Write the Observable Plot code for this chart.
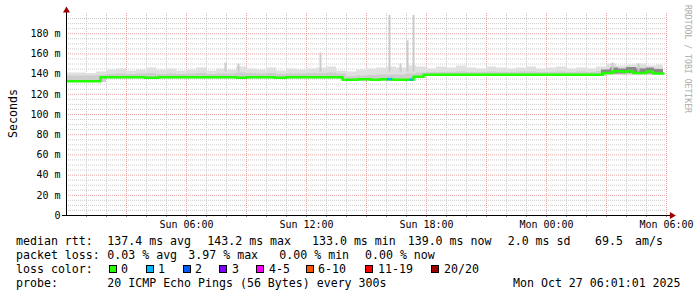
<!DOCTYPE html>
<html><head><meta charset="utf-8">
<script src="https://cdn.jsdelivr.net/npm/d3@7"></script>
<script src="https://cdn.jsdelivr.net/npm/@observablehq/plot@0.6"></script>
<style>
body{margin:0;background:#fff;}
#wrap{position:relative;width:697px;height:297px;overflow:hidden;background:#fff;font-family:"DejaVu Sans Mono",monospace;}
#chart{position:absolute;left:0;top:0;}
#over{position:absolute;left:0;top:0;pointer-events:none;}
.t{position:absolute;font-size:11.6px;line-height:14px;white-space:pre;color:#000;}
.box{position:absolute;width:6px;height:6px;border:1px solid #000;}
</style></head><body>
<div id="wrap">
<div id="chart"></div>
<svg id="over" width="697" height="297" font-family="DejaVu Sans Mono, monospace">
  <text transform="translate(16.5,113.5) rotate(-90)" text-anchor="middle" font-size="11.6" fill="#000">Seconds</text>
  <text transform="translate(684.5,5) rotate(90)" font-size="9" fill="#aaaaaa" textLength="108" lengthAdjust="spacingAndGlyphs">RRDTOOL / TOBI OETIKER</text>
</svg>
<div id="legend"></div>
</div>
<script>
// ---- time frame (Sun 00:00 .. Mon 06:00) ----
const START = Date.UTC(2025, 9, 26, 0, 0, 0);
const HOUR = 3600e3;
const at = h => new Date(START + h * HOUR);

// ---- axes ----
const yTicks = [0, 20, 40, 60, 80, 100, 120, 140, 160, 180];
const xTickHours = [6, 12, 18, 24, 30];
const xTickLabels = ["Sun 06:00", "Sun 12:00", "Sun 18:00", "Mon 00:00", "Mon 06:00"];

// ---- median rtt (ms), step changes at hours since Sun 00:00 ----
const medianHours = [0.05, 1.7, 3.9, 4.6, 8.5, 9.0, 10.4, 11.0, 13.8, 14.6, 15.2, 15.7, 16.3, 17.35, 17.85, 26.83, 27.33, 27.83, 28.0, 28.33, 29.0, 29.33, 29.85];
const medianMs =    [133, 137, 136.3, 137, 136.3, 137, 136.3, 137, 134.5, 135, 134.5, 135, 134.5, 137.3, 139.3, 141, 142.7, 142, 142.7, 141, 142.5, 140.5, 140.5];

// ---- smoke (30-minute bins from Sun 00:00) ----
const smokeLo = [131.8,131.8,131.8,131.8,
  135.5,135.5,135.5,135.5,135.5,135.5,135.5,135.5,135.5,135.5,135.5,135.5,
  135.5,135.5,135.5,135.5,135.5,135.5,135.5,135.5,135.5,135.5,135.5,135.5,
  133,133,133,133,133,133,133, 136,
  138,138,138,138,138,138,138,138,138,138,138,138,138,138,138,138,138,138,
  139,139,139,139,139,139];
const smokeMid = [138,138,138,138.5, 139.5,140,139.5,140, 140.5,139.5,140,139.5,
  140,140.5,139.5,140, 140,141,140.5,140, 140.5,139.5,140,140, 140.5,140.5,141,140,
  137.5,138,138.5,139, 139,139,140,141, 141.5,141.5,141.5,142, 141.5,141.5,142,141.5,
  141.5,142,142,141.5, 141.5,142,141.5,142, 141.5,142.5,145,144.5, 145,146,145,145];
const smokeHi = [141,141,140.5,142, 144,145,143,144, 146,144,145,143, 144,146,143,145,
  144,147,145,144, 146,143,145,144, 145,146,147,143, 142,144,145,146, 147,146,148,147,
  145,147,146,148, 146,145,147,146, 145,146,147,145, 146,147,145,146, 145,147,150,148,
  149,150,148,149];
const smokeEndHour = 29.85;

// dense (dark) smoke near the end
const darkHours = [26.75, 27.2, 27.6, 28.0, 28.5, 29.0, 29.4, 29.85];
const darkLo =    [139.5, 140, 140, 140.5, 139.5, 140, 139.5, 139.5];
const darkHi =    [144, 146, 145, 146.5, 145, 146, 144.5, 144.5];

// outlier spikes
const spikeHours = [7.95, 8.6, 12.7, 16.15, 16.7, 17.05, 17.35, 27.3, 28.6];
const spikeTop =   [151, 150, 161, 198, 150, 173, 198, 151, 150];
const spikeBase = 142;

// median segments coloured by packet loss
const lossFrom = [16.05, 17.2];
const lossTo =   [16.3, 17.32];
const lossMs =   [135, 134.5];
const lossCol =  ["#00b8ff", "#00b8ff"];

// ---- legend text ----
const row1 = ["median rtt:", "137.4 ms avg", "143.2 ms max", "133.0 ms min", "139.0 ms now", "2.0 ms sd", "69.5", "am/s"];
const row2 = ["packet loss:", "0.03 % avg", "3.97 % max", "0.00 % min", "0.00 % now"];
const row3Title = "loss color:";
const lossLabels = ["0", "1", "2", "3", "4-5", "6-10", "11-19", "20/20"];
const lossColors = ["#26ff00", "#00b8ff", "#0059ff", "#7e00ff", "#ff00ff", "#ff5500", "#ff0000", "#a00000"];
const row4 = ["probe:", "20 ICMP Echo Pings (56 Bytes) every 300s", "Mon Oct 27 06:01:01 2025"];

// ---- build tables ----
const smokeRows = smokeHi.map((hi, i) => ({t: at(i * 0.5), lo: smokeLo[i], mid: smokeMid[i], hi}));
smokeRows.push({...smokeRows[smokeRows.length - 1], t: at(smokeEndHour)});
const medianRows = medianHours.map((h, i) => ({t: at(h), v: medianMs[i]}));
const darkRows = darkHours.map((h, i) => ({t: at(h), lo: darkLo[i], hi: darkHi[i]}));
const spikeRows = spikeHours.map((h, i) => ({t: at(h), top: spikeTop[i], base: spikeBase}));
const lossRows = lossFrom.map((h, i) => ({t1: at(h), t2: at(lossTo[i]), v: lossMs[i], c: lossCol[i]}));

const minorY = d3.range(5, 200, 5).filter(v => v % 20 !== 0);
const majorY = yTicks.filter(v => v > 0);
const hours = d3.range(1, 31);
const minorX = hours.filter(h => h % 3 !== 0).map(at);
const majorX = hours.filter(h => h % 3 === 0).map(at);

const chart = Plot.plot({
  width: 697, height: 232,
  marginLeft: 66, marginRight: 31, marginTop: 13, marginBottom: 17,
  style: {fontFamily: "DejaVu Sans Mono, monospace", fontSize: "10px", background: "transparent", color: "#000", overflow: "visible"},
  x: {type: "utc", domain: [at(0), at(30)]},
  y: {domain: [0, 200]},
  marks: [
    Plot.ruleY(minorY, {stroke: "#cccccc", strokeDasharray: "1,1"}),
    Plot.ruleX(minorX, {stroke: "#cccccc", strokeDasharray: "1,1"}),
    Plot.ruleY(majorY, {stroke: "#e6a3a3", strokeDasharray: "1,1"}),
    Plot.ruleX(majorX, {stroke: "#e6a3a3", strokeDasharray: "1,1"}),
    Plot.areaY(smokeRows, {x: "t", y1: "lo", y2: "hi", curve: "step-after", fill: "#e0e0e0"}),
    Plot.areaY(smokeRows, {x: "t", y1: "lo", y2: "mid", curve: "step-after", fill: "#cdcdcd"}),
    Plot.areaY(darkRows, {x: "t", y1: "lo", y2: "hi", curve: "step-after", fill: "#8a8a8a"}),
    Plot.ruleX(spikeRows, {x: "t", y1: "base", y2: "top", stroke: "#cbcbcb", strokeWidth: 2}),
    Plot.line(medianRows, {x: "t", y: "v", curve: "step-after", stroke: "#22ff00", strokeWidth: 2.5}),
    Plot.ruleY(lossRows, {x1: "t1", x2: "t2", y: "v", stroke: "c", strokeWidth: 2.5}),
    // axes
    Plot.ruleX(hours.map(at), {y1: 0, y2: -2, stroke: "#888"}),
    Plot.ruleY([0], {x1: at(-0.2), x2: at(30.2), stroke: "#000"}),
    Plot.ruleX([at(0)], {y1: 0, y2: 201, stroke: "#000"}),
    Plot.dot([{t: at(0), v: 203}], {x: "t", y: "v", symbol: "triangle", r: 2.6, fill: "#a00000", stroke: null}),
    Plot.dot([{t: at(30.27), v: 0}], {x: "t", y: "v", symbol: "triangle", r: 2.6, fill: "#a00000", stroke: null, rotate: 90}),
    Plot.axisY(yTicks, {label: null, tickSize: 0, tickPadding: 6, tickFormat: d => d === 0 ? "0" : d + " m"}),
    Plot.axisX(xTickHours.map(at), {label: null, tickSize: 0, tickPadding: 5, tickFormat: d => xTickLabels[xTickHours.indexOf((d - START) / HOUR)]})
  ]
});
document.getElementById("chart").appendChild(chart);

// ---- legend ----
const legend = document.getElementById("legend");
function put(text, x, top, cls = "t") {
  const s = document.createElement("div");
  s.className = cls; s.textContent = text;
  s.style.left = x + "px"; s.style.top = top + "px";
  legend.appendChild(s);
  return s;
}
const rowTop = [234, 248.3, 262.3, 276.3];
const row1X = [16, 107.3, 207.3, 312, 407.7, 507.7, 595, 635];
const row2X = [16, 107.3, 188.3, 279.3, 365];
const boxX = [109, 146, 183, 219, 256, 306, 365, 431];
const lossTextX = [121, 158, 195, 232, 269, 318, 378, 444];
const row4X = [16, 107.3, 513];
row1.forEach((s, i) => put(s, row1X[i], rowTop[0]));
row2.forEach((s, i) => put(s, row2X[i], rowTop[1]));
put(row3Title, 16, rowTop[2]);
lossLabels.forEach((s, i) => {
  const b = put("", boxX[i], 265, "box");
  b.style.background = lossColors[i];
  put(s, lossTextX[i], rowTop[2]);
});
row4.forEach((s, i) => put(s, row4X[i], rowTop[3]));
</script>
</body></html>
